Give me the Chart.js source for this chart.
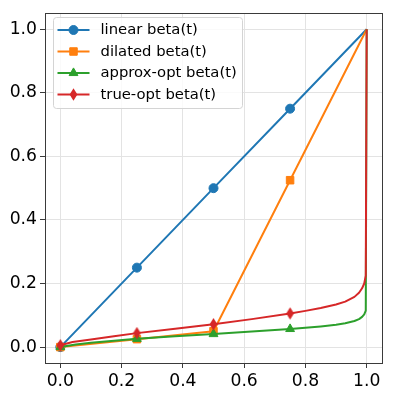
<!DOCTYPE html>
<html>
<head>
<meta charset="utf-8">
<script src="https://cdn.jsdelivr.net/npm/chart.js@4/dist/chart.umd.min.js"></script>
<style>
html,body{margin:0;padding:0;background:#fff;}
canvas{display:block;}
</style>
</head>
<body>
<canvas id="c" width="399" height="399"></canvas>
<script>
// ---- data ----
const seriesLabels = ['linear beta(t)', 'dilated beta(t)', 'approx-opt beta(t)', 'true-opt beta(t)'];
const markerT = [0, 0.25, 0.5, 0.75];

const linearT    = [0, 0.25, 0.5, 0.75, 1];
const linearBeta = [0, 0.25, 0.5, 0.75, 1];

const dilatedT    = [0, 0.25, 0.5, 0.75, 1];
const dilatedBeta = [0, 0.025, 0.05, 0.525, 1];

const approxT    = [0, 0.05, 0.1, 0.175, 0.25, 0.375, 0.5, 0.625, 0.75, 0.8, 0.85, 0.9, 0.93, 0.96, 0.975, 0.985, 0.992, 0.997, 1];
const approxBeta = [0, 0.008, 0.014, 0.02, 0.026, 0.034, 0.041, 0.049, 0.057, 0.061, 0.065, 0.07, 0.075, 0.082, 0.088, 0.095, 0.103, 0.115, 1];

const trueT    = [0, 0.04, 0.1, 0.175, 0.25, 0.375, 0.5, 0.625, 0.75, 0.8, 0.85, 0.9, 0.93, 0.96, 0.975, 0.985, 0.992, 0.997, 1];
const trueBeta = [0.006, 0.016, 0.024, 0.034, 0.044, 0.058, 0.072, 0.088, 0.106, 0.114, 0.123, 0.134, 0.143, 0.158, 0.171, 0.185, 0.2, 0.225, 1];

const xTicks = [0, 0.2, 0.4, 0.6, 0.8, 1.0];
const yTicks = [0, 0.2, 0.4, 0.6, 0.8, 1.0];

// ---- styling ----
const colors = ['#1f77b4', '#ff7f0e', '#2ca02c', '#d62728'];
const FONT = 'DejaVu Sans';

function thinDiamond(color) {
  const c = document.createElement('canvas');
  c.width = 9; c.height = 13;
  const g = c.getContext('2d');
  g.fillStyle = color;
  g.beginPath();
  g.moveTo(4.5, 0.3); g.lineTo(8.4, 6.5); g.lineTo(4.5, 12.7); g.lineTo(0.6, 6.5);
  g.closePath(); g.fill();
  return c;
}
const diamondImg = thinDiamond(colors[3]);
const styles = [
  {pointStyle: 'circle', radius: 4.5},
  {pointStyle: 'rect', radius: 5.3},
  {pointStyle: 'triangle', radius: 5.1},
  {pointStyle: diamondImg, radius: 5}
];

function pts(xs, ys) { return xs.map((x, i) => ({x: x, y: ys[i]})); }
const isMarker = (ctx) => ctx.raw && markerT.includes(ctx.raw.x);

function makeDs(i, xs, ys) {
  return {
    label: seriesLabels[i],
    data: pts(xs, ys),
    borderColor: colors[i],
    backgroundColor: colors[i],
    borderWidth: 2,
    pointStyle: styles[i].pointStyle,
    pointRadius: (ctx) => isMarker(ctx) ? styles[i].radius : 0,
    pointBorderWidth: 1,
    pointBorderColor: colors[i],
    pointBackgroundColor: colors[i],
    tension: 0,
    borderJoinStyle: 'round',
    order: 4 - i
  };
}

const framePlugin = {
  id: 'frame',
  afterDatasetsDraw(chart) {
    const {ctx, chartArea: a} = chart;
    ctx.save();
    ctx.strokeStyle = '#3a3a3a';
    ctx.lineWidth = 1;
    ctx.strokeRect(Math.round(a.left) + 0.5, Math.round(a.top) + 0.5,
                   Math.round(a.right - a.left), Math.round(a.bottom - a.top));
    ctx.restore();
  }
};

const legendPlugin = {
  id: 'customLegend',
  afterDraw(chart) {
    const ctx = chart.ctx;
    const bx = 53.5, by = 17.5, bw = 189, bh = 91;
    ctx.save();
    ctx.beginPath();
    ctx.roundRect(bx, by, bw, bh, 3);
    ctx.fillStyle = 'rgba(255,255,255,0.8)';
    ctx.fill();
    ctx.strokeStyle = '#d4d4d4';
    ctx.lineWidth = 1;
    ctx.stroke();
    chart.data.datasets.forEach((ds, i) => {
      const y = 30 + i * 21.5;
      ctx.strokeStyle = ds.borderColor;
      ctx.lineWidth = 2;
      ctx.beginPath();
      ctx.moveTo(57.5, y); ctx.lineTo(89.5, y);
      ctx.stroke();
      ctx.fillStyle = ds.borderColor;
      ctx.strokeStyle = ds.borderColor;
      ctx.lineWidth = 1;
      Chart.helpers.drawPoint(ctx, {pointStyle: styles[i].pointStyle, radius: styles[i].radius, rotation: 0, borderWidth: 1}, 73.5, y);
      ctx.fillStyle = '#000';
      ctx.font = '14.8px "' + FONT + '"';
      ctx.textBaseline = 'middle';
      ctx.textAlign = 'left';
      ctx.fillText(ds.label, 100.5, y + 0.5);
    });
    ctx.restore();
  }
};

new Chart(document.getElementById('c'), {
  type: 'line',
  data: {
    datasets: [
      makeDs(0, linearT, linearBeta),
      makeDs(1, dilatedT, dilatedBeta),
      makeDs(2, approxT, approxBeta),
      makeDs(3, trueT, trueBeta)
    ]
  },
  options: {
    responsive: false,
    animation: false,
    devicePixelRatio: 1,
    layout: {padding: {top: 9, right: 17, left: 0, bottom: 0}},
    plugins: {legend: {display: false}, tooltip: {enabled: false}},
    scales: {
      x: {
        type: 'linear',
        min: -0.05, max: 1.05,
        afterBuildTicks: (s) => { s.ticks = xTicks.map(v => ({value: v})); },
        afterFit: (s) => { s.height = 36; },
        grid: {color: '#e3e3e3', lineWidth: 1, tickColor: '#3a3a3a', tickLength: 5, drawTicks: true},
        border: {display: false},
        ticks: {
          color: '#000', font: {family: FONT, size: 17.2}, padding: 3, maxRotation: 0,
          callback: (v) => Number(v).toFixed(1)
        }
      },
      y: {
        type: 'linear',
        min: -0.05, max: 1.05,
        afterBuildTicks: (s) => { s.ticks = yTicks.map(v => ({value: v})); },
        afterFit: (s) => { s.width = 45; },
        grid: {color: '#e3e3e3', lineWidth: 1, tickColor: '#3a3a3a', tickLength: 5, drawTicks: true},
        border: {display: false},
        ticks: {
          color: '#000', font: {family: FONT, size: 17.2}, padding: 3,
          callback: (v) => Number(v).toFixed(1)
        }
      }
    }
  },
  plugins: [framePlugin, legendPlugin]
});
</script>
</body>
</html>
